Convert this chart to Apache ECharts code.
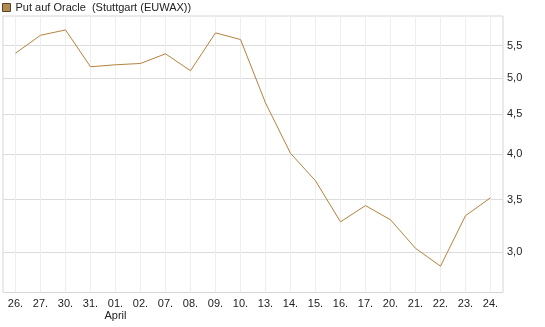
<!DOCTYPE html>
<html>
<head>
<meta charset="utf-8">
<script src="https://cdn.jsdelivr.net/npm/echarts@6/dist/echarts.min.js"></script>
<style>
html,body{margin:0;padding:0;background:#fff;}
#chart{width:545px;height:327px;}
</style>
</head>
<body>
<div id="chart"></div>
<script>
var seriesName = 'Put auf Oracle  (Stuttgart (EUWAX))';
var categories = ['26.','27.','30.','31.','01.','02.','07.','08.','09.','10.','13.','14.','15.','16.','17.','20.','21.','22.','23.','24.'];
var monthLabels = {4: 'April'};
var values = [5.38,5.67,5.76,5.17,5.20,5.22,5.37,5.11,5.71,5.60,4.65,4.01,3.70,3.28,3.44,3.30,3.035,2.88,3.34,3.52];
var yTicks = [3.0,3.5,4.0,4.5,5.0,5.5];

var chart = echarts.init(document.getElementById('chart'));
var FONT = 'Liberation Sans, Arial, sans-serif';
chart.setOption({
  animation: false,
  backgroundColor: '#ffffff',
  textStyle: {fontFamily: FONT},
  legend: {
    left: 2, top: 2, padding: 0,
    itemWidth: 8, itemHeight: 8, itemGap: 5,
    icon: 'rect',
    textStyle: {fontFamily: FONT, fontSize: 11, color: '#222'},
    itemStyle: {color: '#b08a50', borderColor: '#5a4426', borderWidth: 1},
    data: [seriesName]
  },
  grid: {left: 3, right: 42, top: 16, bottom: 34.5, show: true, borderColor: '#d6d6d6', borderWidth: 1},
  xAxis: {
    type: 'category',
    data: categories,
    boundaryGap: true,
    axisLine: {show: false},
    axisTick: {show: false, alignWithLabel: true},
    splitLine: {show: true, alignWithLabel: true, lineStyle: {color: '#eeeeee', width: 1}},
    axisLabel: {
      interval: 0, margin: 5, fontFamily: FONT, fontSize: 11, color: '#222', lineHeight: 12,
      formatter: function (v, i) { return monthLabels[i] ? v + '\n' + monthLabels[i] : v; }
    }
  },
  yAxis: {
    type: 'log',
    logBase: 10,
    position: 'right',
    min: 2.666, max: 6.0,
    axisLine: {show: false},
    axisTick: {show: false, customValues: yTicks},
    splitLine: {show: true, lineStyle: {color: '#dcdcdc', width: 1}},
    axisLabel: {
      customValues: yTicks,
      margin: 4, fontFamily: FONT, fontSize: 11, color: '#222',
      formatter: function (v) { return Number(v).toFixed(1).replace('.', ','); }
    }
  },
  series: [{
    name: seriesName,
    type: 'line',
    data: values,
    symbol: 'none',
    color: '#b08a50',
    lineStyle: {color: '#b5823c', width: 1}
  }]
});
</script>
</body>
</html>
